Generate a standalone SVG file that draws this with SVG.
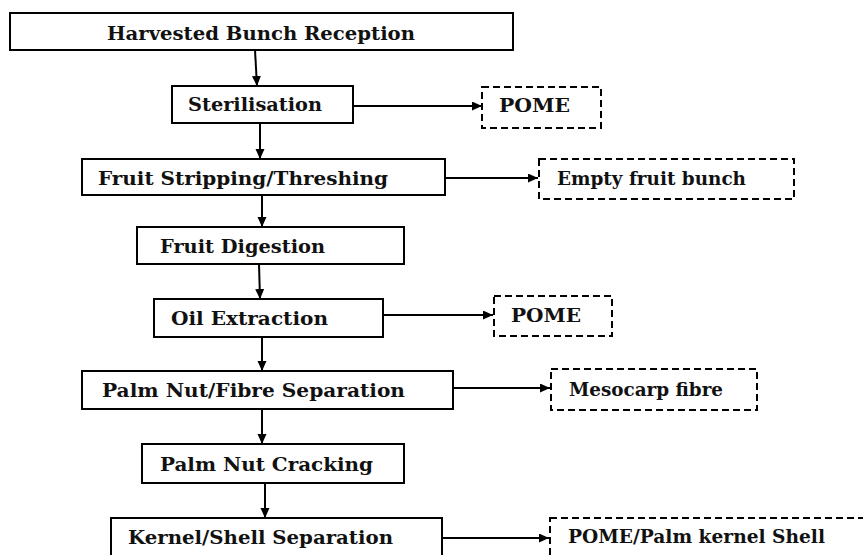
<svg xmlns="http://www.w3.org/2000/svg" width="863" height="555" viewBox="0 0 863 555">
<defs>
<marker id="ah" markerUnits="userSpaceOnUse" markerWidth="11" markerHeight="10" refX="10" refY="4.5" orient="auto"><path d="M0,0 L10,4.5 L0,9 z" fill="#000"/></marker>
<style>
.box{fill:#fff;stroke:#000;stroke-width:2}
.dbox{fill:#fff;stroke:#000;stroke-width:2;stroke-dasharray:7 4}
.c{stroke:#000;stroke-width:2;fill:none;marker-end:url(#ah)}
text{font-family:'DejaVu Serif','Liberation Serif',serif;font-weight:bold;font-size:19px;fill:#111}
</style>
</defs>
<rect width="863" height="555" fill="#fff"/>
<g id="connectors">
<line class="c" x1="255" y1="50" x2="257" y2="86"/>
<line class="c" x1="260" y1="123" x2="260" y2="159"/>
<line class="c" x1="262" y1="195" x2="262" y2="227"/>
<line class="c" x1="259" y1="264" x2="260" y2="299"/>
<line class="c" x1="262" y1="337" x2="262" y2="371"/>
<line class="c" x1="262" y1="409" x2="262" y2="444"/>
<line class="c" x1="265" y1="483" x2="265" y2="518"/>
<line class="c" x1="353" y1="106" x2="482" y2="106"/>
<line class="c" x1="445" y1="178" x2="538" y2="178"/>
<line class="c" x1="383" y1="315" x2="493" y2="315"/>
<line class="c" x1="453" y1="388" x2="550" y2="388"/>
<line class="c" x1="442" y1="538" x2="549" y2="538"/>
</g>
<g id="n1"><rect class="box" x="10" y="13" width="503" height="37"/><text x="107" y="40" textLength="308" lengthAdjust="spacingAndGlyphs">Harvested Bunch Reception</text></g>
<g id="n2"><rect class="box" x="172" y="86" width="181" height="37"/><text x="188" y="111" textLength="134" lengthAdjust="spacingAndGlyphs">Sterilisation</text></g>
<g id="o1"><rect class="dbox" x="482" y="87" width="119" height="41"/><text x="499" y="112" textLength="71" lengthAdjust="spacingAndGlyphs">POME</text></g>
<g id="n3"><rect class="box" x="82" y="159" width="363" height="36"/><text x="98" y="185" textLength="290" lengthAdjust="spacingAndGlyphs">Fruit Stripping/Threshing</text></g>
<g id="o2"><rect class="dbox" x="539" y="159" width="255" height="40"/><text x="557" y="185" textLength="189" lengthAdjust="spacingAndGlyphs">Empty fruit bunch</text></g>
<g id="n4"><rect class="box" x="137" y="227" width="267" height="37"/><text x="160" y="253" textLength="165" lengthAdjust="spacingAndGlyphs">Fruit Digestion</text></g>
<g id="n5"><rect class="box" x="154" y="299" width="229" height="38"/><text x="171" y="325" textLength="157" lengthAdjust="spacingAndGlyphs">Oil Extraction</text></g>
<g id="o3"><rect class="dbox" x="494" y="296" width="118" height="40"/><text x="511" y="322" textLength="70" lengthAdjust="spacingAndGlyphs">POME</text></g>
<g id="n6"><rect class="box" x="82" y="371" width="371" height="38"/><text x="102" y="397" textLength="303" lengthAdjust="spacingAndGlyphs">Palm Nut/Fibre Separation</text></g>
<g id="o4"><rect class="dbox" x="551" y="369" width="206" height="41"/><text x="569" y="396" textLength="154" lengthAdjust="spacingAndGlyphs">Mesocarp fibre</text></g>
<g id="n7"><rect class="box" x="142" y="444" width="262" height="39"/><text x="160" y="471" textLength="213" lengthAdjust="spacingAndGlyphs">Palm Nut Cracking</text></g>
<g id="n8"><rect class="box" x="111" y="518" width="331" height="45"/><text x="128" y="544" textLength="265" lengthAdjust="spacingAndGlyphs">Kernel/Shell Separation</text></g>
<g id="o5"><rect class="dbox" x="550" y="518" width="320" height="45"/><text x="568" y="543" textLength="257" lengthAdjust="spacingAndGlyphs">POME/Palm kernel Shell</text></g>
</svg>
